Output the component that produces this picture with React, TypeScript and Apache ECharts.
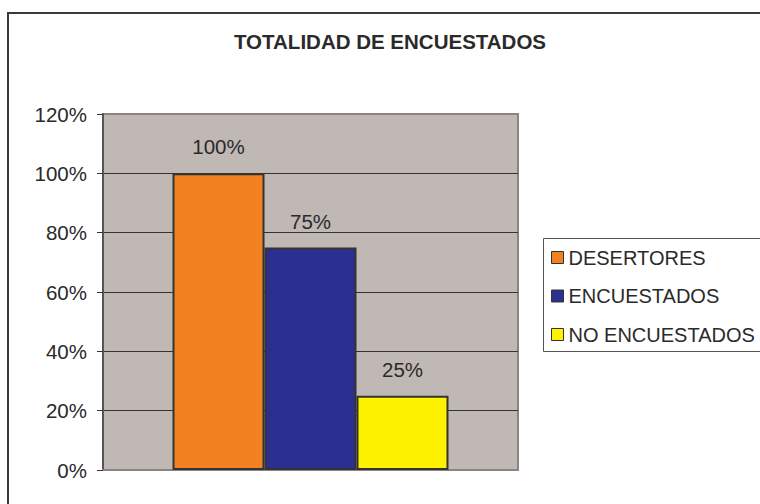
import React, { useEffect, useRef } from "react";
import * as echarts from "echarts";

const title = "TOTALIDAD DE ENCUESTADOS";
const seriesNames = ["DESERTORES", "ENCUESTADOS", "NO ENCUESTADOS"];
const seriesValues = [1.0, 0.75, 0.25];
const seriesColors = ["#F28122", "#2B3090", "#FFF200"];
const yTicks = [0, 0.2, 0.4, 0.6, 0.8, 1.0, 1.2];

const FONT = "'Liberation Sans', Arial, sans-serif";

export default function App() {
  const ref = useRef<HTMLDivElement>(null);
  useEffect(() => {
    if (!ref.current) return;
    const chart = echarts.init(ref.current, undefined, { renderer: "svg" });
    const option: any = {
      animation: false,
      backgroundColor: "#FFFFFF",
      title: {
        text: title,
        left: 390,
        textAlign: "center",
        top: 31,
        padding: 0,
        textStyle: { fontFamily: FONT, fontSize: 20.5, fontWeight: "bold", color: "#2a2a2a" },
      },
      grid: {
        left: 103,
        top: 114,
        width: 415,
        height: 356,
        show: true,
        backgroundColor: "#C0B8B4",
        borderColor: "#8C8480",
        borderWidth: 2,
      },
      legend: {
        orient: "vertical",
        left: 551,
        top: 247,
        padding: 0,
        itemWidth: 12,
        itemHeight: 12,
        itemGap: 17.5,
        icon: "rect",
        itemStyle: { borderColor: "#333333", borderWidth: 1 },
        textStyle: { fontFamily: FONT, fontSize: 20, color: "#2a2a2a", lineHeight: 21 },
        data: seriesNames,
      },
      xAxis: {
        type: "category",
        data: [""],
        axisLine: { show: true, lineStyle: { color: "#8C8480", width: 2 } },
        axisTick: { show: false },
        axisLabel: { show: false },
        splitLine: { show: false },
      },
      yAxis: {
        type: "value",
        min: yTicks[0],
        max: yTicks[yTicks.length - 1],
        interval: 0.2,
        axisLine: { show: true, lineStyle: { color: "#555555", width: 2 } },
        axisTick: { show: true, length: 6, lineStyle: { color: "#333333", width: 1 } },
        axisLabel: {
          margin: 16,
          fontFamily: FONT,
          fontSize: 20.5,
          color: "#2a2a2a",
          formatter: (v: number) => `${Math.round(v * 100)}%`,
        },
        splitLine: {
          show: true,
          showMinLine: false,
          showMaxLine: false,
          lineStyle: { color: "#333333", width: 1 },
        },
      },
      graphic: [
        {
          type: "rect",
          shape: { x: 8, y: 13, width: 800, height: 600 },
          style: { fill: "none", stroke: "#3a3a3a", lineWidth: 2 },
          silent: true,
        },
        {
          type: "rect",
          shape: { x: 543.5, y: 238.5, width: 300, height: 113 },
          style: { fill: "none", stroke: "#555555", lineWidth: 1 },
          silent: true,
        },
      ],
      series: seriesNames.map((name, i) => ({
        name,
        type: "bar",
        data: [seriesValues[i]],
        barGap: "0%",
        barCategoryGap: "33.5%",
        itemStyle: { color: seriesColors[i], borderColor: "#333333", borderWidth: 2 },
        label: {
          show: true,
          position: "top",
          distance: 16,
          fontFamily: FONT,
          fontSize: 20.5,
          color: "#2a2a2a",
          formatter: (p: any) => `${Math.round(p.value * 100)}%`,
        },
      })),
    };
    chart.setOption(option);
    return () => chart.dispose();
  }, []);
  return (
    <div
      ref={ref}
      style={{ position: "fixed", left: 0, top: 0, width: 760, height: 504 }}
    />
  );
}
